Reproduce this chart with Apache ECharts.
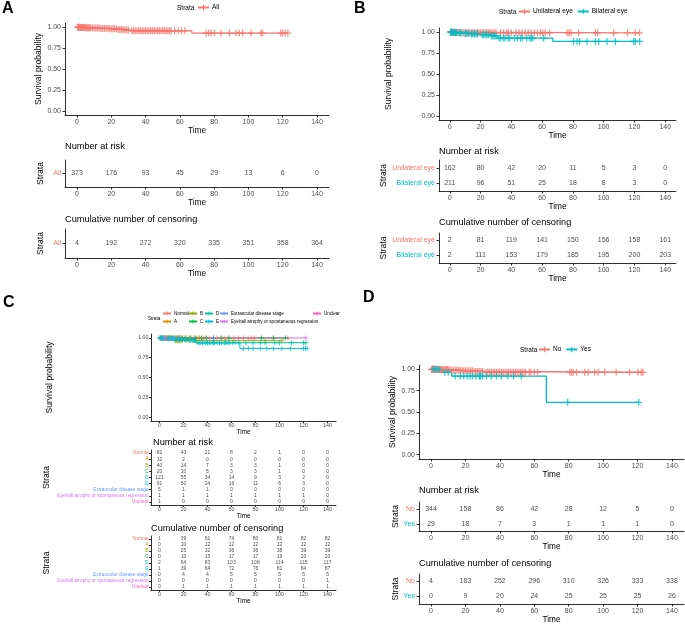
<!DOCTYPE html>
<html><head><meta charset="utf-8">
<script src="https://cdn.jsdelivr.net/npm/echarts@6/dist/echarts.min.js"></script>
<style>html,body{margin:0;padding:0;background:#fff}#c{width:685px;height:625px}</style>
</head><body><div id="c"></div>
<script>
// ---------- shared ticks ----------
const TIME_TICKS=[0,20,40,60,80,100,120,140];
const SURV_TICKS=[0,0.25,0.5,0.75,1];
const RED='#F8766D', TEAL='#00BFC4';

// ---------- Panel A ----------
const A_all_t=[0,2,5,9,14,19,24,28,31,67,123];
const A_all_s=[1,0.997,0.994,0.99,0.985,0.98,0.973,0.965,0.957,0.93,0.93];
const A_all_cens=[0.3,0.8,1.2,1.6,2,2.4,2.8,3.2,3.6,4,4.5,5,5.5,6,6.5,7,7.5,8,9,10,11,12,13,14,15,16,17,18,19,20,21,22,23,24,25,26,27,28,29,30,32,33,34,35,36,37,38,39,40,41,42,43,44,45,46,47,48,49,50,51,52,53,54,55,57,59,61,63,75.3,76.7,78.2,80.2,84,88.9,92.8,94.7,96.6,101.5,107.3,108.2,118.9,119.9,121.4,123];
const A_strata=['All'];
const A_risk_all=[373,176,93,45,29,13,6,0];
const A_cens_all=[4,192,272,320,335,351,358,364];

// ---------- Panel B ----------
const B_strata=['Unilateral eye','Bilateral eye'];
const B_uni_t=[0,8,123.3];
const B_uni_s=[1,0.992,0.992];
const B_uni_cens=[0.5,1,1.5,2,2.5,3,4,5,6,7,9,10,11,12,13,14,15,16,17,18,19,20,21,22,23,24,25,26,27,28,29,30,33,35,37,38,40,43,45,47,49,51,53,55,57,58.9,60.4,62,64.9,76.2,77.5,78.8,83.7,94.6,96.1,106.5,115.5,120.5,123.3];
const B_bi_t=[0,2,5,9,13,20,26,31,67,123.4];
const B_bi_s=[1,0.995,0.99,0.985,0.978,0.97,0.955,0.93,0.89,0.89];
const B_bi_cens=[0.5,1,1.5,2.5,3,3.5,4,4.5,6,7,8,10,11,12,14,15,16,17,18,21,22,23,24,25,27,28,29,30,32,33,35,36,38,39,42,44,46,47,50,52,53,54,61,80.5,82.7,84.4,89.2,94.6,96.8,102.2,107.6,119.5,120.6,123.4];
const B_risk_uni=[162,80,42,20,11,5,3,0];
const B_risk_bi=[211,96,51,25,18,8,3,0];
const B_cens_uni=[2,81,119,141,150,156,158,161];
const B_cens_bi=[2,111,153,179,185,195,200,203];

// ---------- Panel C ----------
const C_strata=['Normal','A','B','C','D','E','Extraocular disease stage','Eyeball atrophy or spontaneous regression','Unclear'];
const C_colors=['#F8766D','#D39200','#93AA00','#00BA38','#00C19F','#00B9E3','#619CFF','#DB72FB','#FF61C3'];
const C_normal_t=[0,107], C_normal_s=[1,1];
const C_normal_cens=[0.5,2,3,4,5,6,7,8,9,10,11,12,13,14,15,16,17,18,19,21,23,25,27,29,31,33,35,37,39,42,45,48,51,54,57,62,66,70,74,77,79,95,107];
const C_a_t=[0,33], C_a_s=[1,1];
const C_a_cens=[1,3,5,7,9,11,13,15,17,19,25,33];
const C_b_t=[0,12,102], C_b_s=[1,0.966,0.966];
const C_b_cens=[2,4,6,8,10,13,14,15,16,17,18,19,22,25,28,31,36,45,55,62,88,102];
const C_c_t=[0,105], C_c_s=[1,1];
const C_c_cens=[2,5,8,11,14,17,19,22,26,30,35,39,45,52,58,85,95,105];
const C_d_t=[0,3,12,25,31,122], C_d_s=[1,0.992,0.982,0.968,0.94,0.94];
const C_d_cens=[0.5,1.5,2.5,3.5,4.5,5.5,6.5,7.5,8.5,9.5,10.5,11.5,13,14,16,17,18,19,21,23,24,26,28,29,32,34,36,38,40,42,44,46,48,50,52,54,56,58,61,66,72,78,84,88,96,100,110,120,122];
const C_e_t=[0,6,15,30,67,123], C_e_s=[1,0.989,0.976,0.94,0.868,0.868];
const C_e_cens=[0.5,1.5,3,4.5,7,9,11,13,17,19,22,24,27,29,33,36,39,42,45,50,55,58,63,70,74,78,83.9,89.4,95,102,109,120,121.5,123];
const C_extra_t=[0,45], C_extra_s=[1,1];
const C_extra_cens=[4,8,12,16,45];
const C_eye_t=[0,122], C_eye_s=[1,1];
const C_eye_cens=[122];
const C_unc_t=[0,5], C_unc_s=[1,1];
const C_unc_cens=[5];
const C_risk=[[82,43,21,8,2,1,0,0],[12,2,0,0,0,0,0,0],[40,14,7,3,3,1,0,0],[20,10,5,3,3,1,0,0],[121,55,34,14,9,3,2,0],[91,50,24,16,11,6,3,0],[5,1,1,0,0,0,0,0],[1,1,1,1,1,1,1,0],[1,0,0,0,0,0,0,0]];
const C_cens=[[1,39,61,74,80,81,82,82],[0,10,12,12,12,12,12,12],[0,25,32,36,36,38,39,39],[0,10,15,17,17,19,20,20],[2,64,83,103,108,114,115,117],[1,39,64,72,76,81,84,87],[0,4,4,5,5,5,5,5],[0,0,0,0,0,0,0,1],[0,1,1,1,1,1,1,1]];

// ---------- Panel D ----------
const D_strata=['No','Yes'];
const D_no_t=[0,2,6,12,18,25,31,123.1];
const D_no_s=[1,0.997,0.993,0.988,0.982,0.974,0.965,0.965];
const D_no_cens=[0.3,0.7,1,1.3,1.7,2.2,2.6,3,3.5,4,4.5,5,5.5,6,6.5,7,7.5,8,8.5,9,9.5,10,11,12,13,14,15,16,17,18,19,20,21,22,23,24,25,26,27,28,29,30,32,33,34,35,36,37,38,39,40,41,42,43,44,45,46,47,48,49,50,51,52,53,54,55,57,58,60,62,80.7,81.7,82.6,84.5,89.3,91.3,95.1,97.1,100.9,107.6,115.4,120.2,122.2,123.1];
const D_yes_t=[0,5,12,67,120.7];
const D_yes_s=[1,0.966,0.92,0.613,0.613];
const D_yes_cens=[1.5,2.5,3.5,4.5,8,10,14,17,19,21,22.6,24,26,28,28.4,28.8,30,32.2,35,38,41,44.6,48,52.4,79.4,120.7];
const D_risk_no=[344,158,86,42,28,12,5,0];
const D_risk_yes=[29,18,7,3,1,1,1,0];
const D_cens_no=[4,183,252,296,310,326,333,338];
const D_cens_yes=[0,9,20,24,25,25,25,26];

// ---------- builders ----------
const FONT='"Liberation Sans", Arial, Helvetica, sans-serif';
const CROSS='path://M4.1,0H5.9V4.1H10V5.9H5.9V10H4.1V5.9H0V4.1H4.1Z';
const grids=[],xAxis=[],yAxis=[],series=[],title=[],legend=[],graphic=[];
const AX={color:'#1a1a1a',width:0.9};

function stepAt(ts,ss,t){let v=ss[0];for(let i=0;i<ts.length;i++){if(ts[i]<=t)v=ss[i];}return v;}

function timeAxis(gi,f){
  return {type:'value',gridIndex:gi,min:-7,max:147,name:'Time',nameLocation:'middle',nameGap:f.nameGap,
    nameTextStyle:{fontSize:f.nameSize,color:'#000',fontFamily:FONT},
    splitLine:{show:false},axisLine:{show:true,onZero:false,lineStyle:AX},
    axisTick:{show:true,length:f.tick,customValues:TIME_TICKS,lineStyle:AX},
    axisLabel:{customValues:TIME_TICKS,fontSize:f.tickSize,color:'#4D4D4D',margin:f.margin,fontFamily:FONT}};
}
function survPlot(box,f,curves){
  grids.push({left:box[0],top:box[1],width:box[2],height:box[3],containLabel:false});
  const gi=grids.length-1;
  xAxis.push(timeAxis(gi,f));
  yAxis.push({type:'value',gridIndex:gi,min:-0.05,max:1.05,name:'Survival probability',nameLocation:'middle',
    nameGap:f.yNameGap,nameRotate:90,nameTextStyle:{fontSize:8.6,color:'#000',fontFamily:FONT},
    splitLine:{show:false},axisLine:{show:true,onZero:false,lineStyle:AX},
    axisTick:{show:true,length:f.tick,customValues:SURV_TICKS,lineStyle:AX},
    axisLabel:{customValues:SURV_TICKS,formatter:v=>v.toFixed(2),fontSize:f.tickSize,color:'#4D4D4D',margin:f.margin,fontFamily:FONT}});
  curves.forEach(c=>{
    series.push({type:'line',name:c.name,xAxisIndex:gi,yAxisIndex:gi,data:c.t.map((t,i)=>[t,c.s[i]]),step:'end',
      symbol:CROSS,showSymbol:false,symbolSize:f.mark,lineStyle:{width:f.lw,color:c.color},itemStyle:{color:c.color},
      silent:true,z:2});
    series.push({type:'scatter',xAxisIndex:gi,yAxisIndex:gi,symbol:CROSS,symbolSize:f.mark,itemStyle:{color:c.color},
      data:c.cens.map(t=>[t,stepAt(c.t,c.s,t)]),silent:true,z:3});
  });
}
function table(box,f,names,colors,rows){
  grids.push({left:box[0],top:box[1],width:box[2],height:box[3],containLabel:false});
  const gi=grids.length-1;
  xAxis.push(timeAxis(gi,f));
  yAxis.push({type:'category',gridIndex:gi,data:names,inverse:true,name:'Strata',nameLocation:'middle',
    nameGap:f.sNameGap,nameRotate:90,nameTextStyle:{fontSize:8.6,color:'#000',fontFamily:FONT},
    axisLine:{show:true,onZero:false,lineStyle:AX},
    axisTick:{show:true,length:f.tick,alignWithLabel:true,interval:0,lineStyle:AX},
    axisLabel:{interval:0,fontSize:f.rowSize,margin:f.margin,fontFamily:FONT,color:(v,i)=>colors[i]},
    splitLine:{show:false}});
  const data=[];
  rows.forEach((r,ri)=>r.forEach((v,ti)=>data.push([TIME_TICKS[ti],ri,v])));
  series.push({type:'scatter',xAxisIndex:gi,yAxisIndex:gi,silent:true,symbolSize:1,itemStyle:{color:'rgba(0,0,0,0)'},
    label:{show:true,position:'inside',formatter:p=>p.value[2],fontSize:f.numSize,color:'#1a1a1a',fontFamily:FONT},
    data:data});
}
function ttl(text,x,y,fs){title.push({text:text,left:x,top:y,padding:0,textStyle:{fontSize:fs,fontWeight:'normal',color:'#000',fontFamily:FONT}});}
function txt(text,x,y,fs,bold){graphic.push({type:'text',left:x,top:y,silent:true,style:{text:text,fontSize:fs,fontWeight:bold?'bold':'normal',fill:'#000',fontFamily:FONT}});}
function lg(names,x,y,f,orient){legend.push({data:names,left:x,top:y,orient:orient||'horizontal',itemWidth:f.iw,itemHeight:f.ih,itemGap:f.gap,
  selectedMode:false,padding:0,textStyle:{fontSize:f.fs,color:'#000',fontFamily:FONT,padding:[0,0,0,-2]}});}

const FA={nameGap:12,nameSize:8.3,tick:2.5,tickSize:7,margin:4,yNameGap:20,sNameGap:20,mark:7,lw:1.3,rowSize:7,numSize:7};
const FC={nameGap:7,nameSize:6.3,tick:2,tickSize:5.3,margin:2.5,yNameGap:97,sNameGap:100,mark:5,lw:1,rowSize:4.8,numSize:5};

// Panel A
survPlot([65,23,264,92],FA,[{name:'All',color:RED,t:A_all_t,s:A_all_s,cens:A_all_cens}]);
table([65,160,264,27],FA,A_strata,[RED],[A_risk_all]);
table([65,229,264,29],FA,A_strata,[RED],[A_cens_all]);
ttl('Number at risk',65,142,9.2); ttl('Cumulative number of censoring',65,215,9.2);
txt('A',2,1,16,true); txt('Strata',177,5,6.5);
lg(['All'],197,4,{iw:11,ih:7,gap:5,fs:6.5});

// Panel B
const FB=Object.assign({},FA,{yNameGap:46,sNameGap:48});
survPlot([439,28,237,92],FB,[
  {name:'Unilateral eye',color:RED,t:B_uni_t,s:B_uni_s,cens:B_uni_cens},
  {name:'Bilateral eye',color:TEAL,t:B_bi_t,s:B_bi_s,cens:B_bi_cens}]);
table([439,160,237,31],FB,B_strata,[RED,TEAL],[B_risk_uni,B_risk_bi]);
table([439,233,237,30],FB,B_strata,[RED,TEAL],[B_cens_uni,B_cens_bi]);
ttl('Number at risk',439,147,9.2); ttl('Cumulative number of censoring',439,218,9.2);
txt('B',354,1,16,true); txt('Strata',499,9,6.5);
lg(['Unilateral eye','Bilateral eye'],518,8,{iw:11,ih:7,gap:4,fs:6.5});

// Panel C
survPlot([151,334,185,87],FC,[
  {name:'Normal',color:C_colors[0],t:C_normal_t,s:C_normal_s,cens:C_normal_cens},
  {name:'A',color:C_colors[1],t:C_a_t,s:C_a_s,cens:C_a_cens},
  {name:'B',color:C_colors[2],t:C_b_t,s:C_b_s,cens:C_b_cens},
  {name:'C',color:C_colors[3],t:C_c_t,s:C_c_s,cens:C_c_cens},
  {name:'D',color:C_colors[4],t:C_d_t,s:C_d_s,cens:C_d_cens},
  {name:'E',color:C_colors[5],t:C_e_t,s:C_e_s,cens:C_e_cens},
  {name:'Extraocular disease stage',color:C_colors[6],t:C_extra_t,s:C_extra_s,cens:C_extra_cens},
  {name:'Eyeball atrophy or spontaneous regression',color:C_colors[7],t:C_eye_t,s:C_eye_s,cens:C_eye_cens},
  {name:'Unclear',color:C_colors[8],t:C_unc_t,s:C_unc_s,cens:C_unc_cens}]);
table([151,450,185,55],FC,C_strata,C_colors,C_risk);
table([151,536,185,54],FC,C_strata,C_colors,C_cens);
ttl('Number at risk',153,438,9.2); ttl('Cumulative number of censoring',151,524,9.2);
txt('C',3,295,16,true); txt('Strata',148,316,4.6);
const LC={iw:8,ih:5,gap:3,fs:4.6};
lg(['Normal','A'],162,311,LC,'vertical');
lg(['B','C'],188,311,LC,'vertical');
lg(['D','E'],204,311,LC,'vertical');
lg(['Extraocular disease stage','Eyeball atrophy or spontaneous regression'],219,311,LC,'vertical');
lg(['Unclear'],312,311,LC,'vertical');

// Panel D
const FD=Object.assign({},FA,{yNameGap:17,sNameGap:19});
survPlot([419,365,265,94],FD,[
  {name:'No',color:RED,t:D_no_t,s:D_no_s,cens:D_no_cens},
  {name:'Yes',color:TEAL,t:D_yes_t,s:D_yes_s,cens:D_yes_cens}]);
table([419,502,265,29],FD,D_strata,[RED,TEAL],[D_risk_no,D_risk_yes]);
table([419,574,265,30],FD,D_strata,[RED,TEAL],[D_cens_no,D_cens_yes]);
ttl('Number at risk',419,486,9.2); ttl('Cumulative number of censoring',419,559,9.2);
txt('D',363,290,16,true); txt('Strata',520,347,6.5);
lg(['No','Yes'],538,346,{iw:11,ih:7,gap:4,fs:6.5});

const chart=echarts.init(document.getElementById('c'),null,{renderer:'canvas'});
chart.setOption({animation:false,backgroundColor:'#fff',grid:grids,xAxis:xAxis,yAxis:yAxis,series:series,title:title,legend:legend,graphic:graphic,tooltip:{show:false}});
</script></body></html>
